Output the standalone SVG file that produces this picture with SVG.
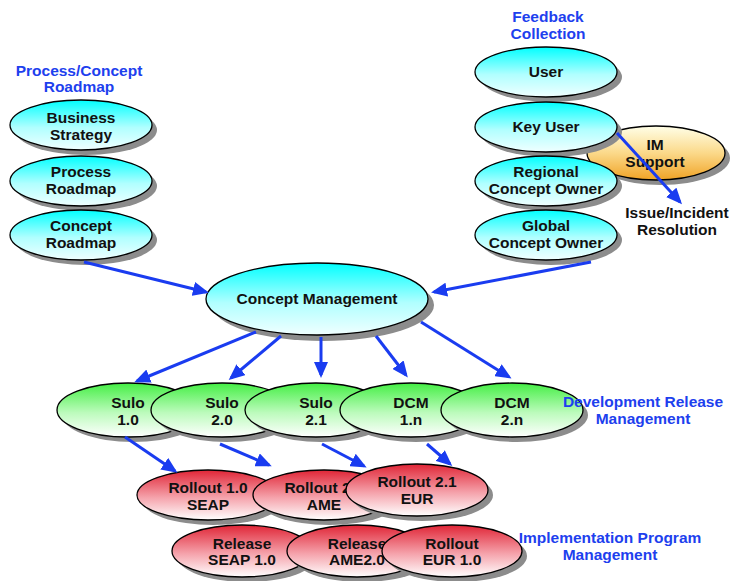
<svg xmlns="http://www.w3.org/2000/svg" width="731" height="581" viewBox="0 0 731 581">
  <style>
    .node { stroke: #000; stroke-width: 1.3; }
    .shadow { fill: #8c8c8c; }
    .cyan { fill: url(#gCyan); }
    .green { fill: url(#gGreen); }
    .red { fill: url(#gRed); }
    .orange { fill: url(#gOrange); }
    text { font-family: "Liberation Sans", Arial, sans-serif; font-weight: bold; font-size: 15.5px; text-anchor: middle; }
    .lbl { fill: #111; }
    .title { fill: #1d40ee; }
    .conn { stroke: #1a3cf0; stroke-width: 3; fill: none; marker-end: url(#arrow); }
  </style>
  <defs>
    <linearGradient id="gCyan" x1="0" y1="0" x2="0" y2="1">
      <stop offset="0" stop-color="#00ffff"/>
      <stop offset="0.55" stop-color="#b0ffff"/>
      <stop offset="1" stop-color="#f0ffff"/>
    </linearGradient>
    <linearGradient id="gGreen" x1="0" y1="0" x2="0" y2="1">
      <stop offset="0" stop-color="#44ee44"/>
      <stop offset="0.55" stop-color="#bcfbbc"/>
      <stop offset="1" stop-color="#ffffff"/>
    </linearGradient>
    <linearGradient id="gRed" x1="0" y1="0" x2="0" y2="1">
      <stop offset="0" stop-color="#e02536"/>
      <stop offset="0.55" stop-color="#f5a2ab"/>
      <stop offset="1" stop-color="#ffffff"/>
    </linearGradient>
    <linearGradient id="gOrange" x1="0" y1="0" x2="0" y2="1">
      <stop offset="0" stop-color="#ffffe8"/>
      <stop offset="0.5" stop-color="#fbd98a"/>
      <stop offset="1" stop-color="#f0a326"/>
    </linearGradient>
    <marker id="arrow" markerUnits="userSpaceOnUse" markerWidth="18" markerHeight="14" refX="13" refY="7" orient="auto">
      <path d="M0,0 L16,7 L0,14 z" fill="#1a3cf0"/>
    </marker>
  </defs>

  <!-- roadmap column -->
  <g id="business-strategy">
    <ellipse class="shadow" cx="86" cy="130" rx="71" ry="25"/>
    <ellipse class="node cyan" cx="81" cy="125" rx="71" ry="25"/>
    <text class="lbl" x="81" y="123">Business</text>
    <text class="lbl" x="81" y="140">Strategy</text>
  </g>
  <g id="process-roadmap">
    <ellipse class="shadow" cx="86" cy="186" rx="71" ry="25"/>
    <ellipse class="node cyan" cx="81" cy="181" rx="71" ry="25"/>
    <text class="lbl" x="81" y="177">Process</text>
    <text class="lbl" x="81" y="194">Roadmap</text>
  </g>
  <g id="concept-roadmap">
    <ellipse class="shadow" cx="86" cy="240" rx="71" ry="25"/>
    <ellipse class="node cyan" cx="81" cy="235" rx="71" ry="25"/>
    <text class="lbl" x="81" y="231">Concept</text>
    <text class="lbl" x="81" y="248">Roadmap</text>
  </g>

  <!-- feedback column -->
  <g id="im-support">
    <ellipse class="shadow" cx="661" cy="158" rx="69" ry="27"/>
    <ellipse class="node orange" cx="656" cy="153" rx="69" ry="27"/>
    <text class="lbl" x="655" y="150">IM</text>
    <text class="lbl" x="655" y="167">Support</text>
  </g>
  <g id="user">
    <ellipse class="shadow" cx="551" cy="77" rx="71" ry="25"/>
    <ellipse class="node cyan" cx="546" cy="72" rx="71" ry="25"/>
    <text class="lbl" x="546" y="77">User</text>
  </g>
  <g id="key-user">
    <ellipse class="shadow" cx="551" cy="132" rx="71" ry="25"/>
    <ellipse class="node cyan" cx="546" cy="127" rx="71" ry="25"/>
    <text class="lbl" x="546" y="132">Key User</text>
  </g>
  <g id="regional-concept-owner">
    <ellipse class="shadow" cx="551" cy="186" rx="71" ry="25"/>
    <ellipse class="node cyan" cx="546" cy="181" rx="71" ry="25"/>
    <text class="lbl" x="546" y="177">Regional</text>
    <text class="lbl" x="546" y="194">Concept Owner</text>
  </g>
  <g id="global-concept-owner">
    <ellipse class="shadow" cx="551" cy="240" rx="71" ry="25"/>
    <ellipse class="node cyan" cx="546" cy="235" rx="71" ry="25"/>
    <text class="lbl" x="546" y="231">Global</text>
    <text class="lbl" x="546" y="248">Concept Owner</text>
  </g>

  <!-- hub -->
  <g id="concept-management">
    <ellipse class="shadow" cx="323" cy="305" rx="111" ry="36"/>
    <ellipse class="node cyan" cx="317" cy="299" rx="111" ry="36"/>
    <text class="lbl" x="317" y="304">Concept Management</text>
  </g>

  <!-- development releases -->
  <g id="sulo-1-0">
    <ellipse class="shadow" cx="133" cy="415" rx="71" ry="27"/>
    <ellipse class="node green" cx="128" cy="410" rx="71" ry="27"/>
    <text class="lbl" x="128" y="408">Sulo</text>
    <text class="lbl" x="128" y="425">1.0</text>
  </g>
  <g id="sulo-2-0">
    <ellipse class="shadow" cx="227" cy="415" rx="71" ry="27"/>
    <ellipse class="node green" cx="222" cy="410" rx="71" ry="27"/>
    <text class="lbl" x="222" y="408">Sulo</text>
    <text class="lbl" x="222" y="425">2.0</text>
  </g>
  <g id="sulo-2-1">
    <ellipse class="shadow" cx="321" cy="415" rx="71" ry="27"/>
    <ellipse class="node green" cx="316" cy="410" rx="71" ry="27"/>
    <text class="lbl" x="316" y="408">Sulo</text>
    <text class="lbl" x="316" y="425">2.1</text>
  </g>
  <g id="dcm-1-n">
    <ellipse class="shadow" cx="416" cy="415" rx="71" ry="27"/>
    <ellipse class="node green" cx="411" cy="410" rx="71" ry="27"/>
    <text class="lbl" x="411" y="408">DCM</text>
    <text class="lbl" x="411" y="425">1.n</text>
  </g>
  <g id="dcm-2-n">
    <ellipse class="shadow" cx="517" cy="415" rx="71" ry="27"/>
    <ellipse class="node green" cx="512" cy="410" rx="71" ry="27"/>
    <text class="lbl" x="512" y="408">DCM</text>
    <text class="lbl" x="512" y="425">2.n</text>
  </g>

  <!-- rollouts -->
  <g id="rollout-1-0-seap">
    <ellipse class="shadow" cx="213" cy="500" rx="71" ry="25"/>
    <ellipse class="node red" cx="208" cy="495" rx="71" ry="25"/>
    <text class="lbl" x="208" y="493">Rollout 1.0</text>
    <text class="lbl" x="208" y="510">SEAP</text>
  </g>
  <g id="rollout-2-0-ame">
    <ellipse class="shadow" cx="329" cy="500" rx="71" ry="25"/>
    <ellipse class="node red" cx="324" cy="495" rx="71" ry="25"/>
    <text class="lbl" x="324" y="493">Rollout 2.0</text>
    <text class="lbl" x="324" y="510">AME</text>
  </g>
  <g id="rollout-2-1-eur">
    <ellipse class="shadow" cx="422" cy="495" rx="71" ry="26"/>
    <ellipse class="node red" cx="417" cy="490" rx="71" ry="26"/>
    <text class="lbl" x="417" y="487">Rollout 2.1</text>
    <text class="lbl" x="417" y="504">EUR</text>
  </g>
  <g id="release-seap-1-0">
    <ellipse class="shadow" cx="247" cy="556" rx="70" ry="26"/>
    <ellipse class="node red" cx="242" cy="551" rx="70" ry="26"/>
    <text class="lbl" x="242" y="549">Release</text>
    <text class="lbl" x="242" y="565">SEAP 1.0</text>
  </g>
  <g id="release-ame-2-0">
    <ellipse class="shadow" cx="362" cy="556" rx="70" ry="26"/>
    <ellipse class="node red" cx="357" cy="551" rx="70" ry="26"/>
    <text class="lbl" x="357" y="549">Release</text>
    <text class="lbl" x="357" y="565">AME2.0</text>
  </g>
  <g id="rollout-eur-1-0">
    <ellipse class="shadow" cx="457" cy="556" rx="70" ry="26"/>
    <ellipse class="node red" cx="452" cy="551" rx="70" ry="26"/>
    <text class="lbl" x="452" y="549">Rollout</text>
    <text class="lbl" x="452" y="565">EUR 1.0</text>
  </g>

  <!-- section titles, drawn over the ellipses -->
  <g id="titles">
    <text class="title" x="79" y="76">Process/Concept</text>
    <text class="title" x="79" y="92">Roadmap</text>
    <text class="title" x="548" y="22">Feedback</text>
    <text class="title" x="548" y="39">Collection</text>
    <text class="title" x="643" y="407">Development Release</text>
    <text class="title" x="643" y="424">Management</text>
    <text class="title" x="610" y="543">Implementation Program</text>
    <text class="title" x="610" y="560">Management</text>
    <text class="lbl" x="677" y="218">Issue/Incident</text>
    <text class="lbl" x="677" y="235">Resolution</text>
  </g>

  <!-- connectors -->
  <g id="connectors">
    <line class="conn" x1="84" y1="262" x2="206" y2="292"/>
    <line class="conn" x1="591" y1="262" x2="434" y2="292"/>
    <line class="conn" x1="256" y1="332" x2="137" y2="381"/>
    <line class="conn" x1="281" y1="336" x2="231" y2="378"/>
    <line class="conn" x1="321" y1="337" x2="321" y2="375"/>
    <line class="conn" x1="376" y1="336" x2="406" y2="375"/>
    <line class="conn" x1="421" y1="322" x2="509" y2="377"/>
    <line class="conn" x1="125" y1="437" x2="175" y2="471"/>
    <line class="conn" x1="220" y1="444" x2="269" y2="465"/>
    <line class="conn" x1="322" y1="444" x2="364" y2="466"/>
    <line class="conn" x1="427" y1="444" x2="450" y2="464"/>
    <line class="conn" x1="617" y1="133" x2="680" y2="202"/>
  </g>
</svg>
